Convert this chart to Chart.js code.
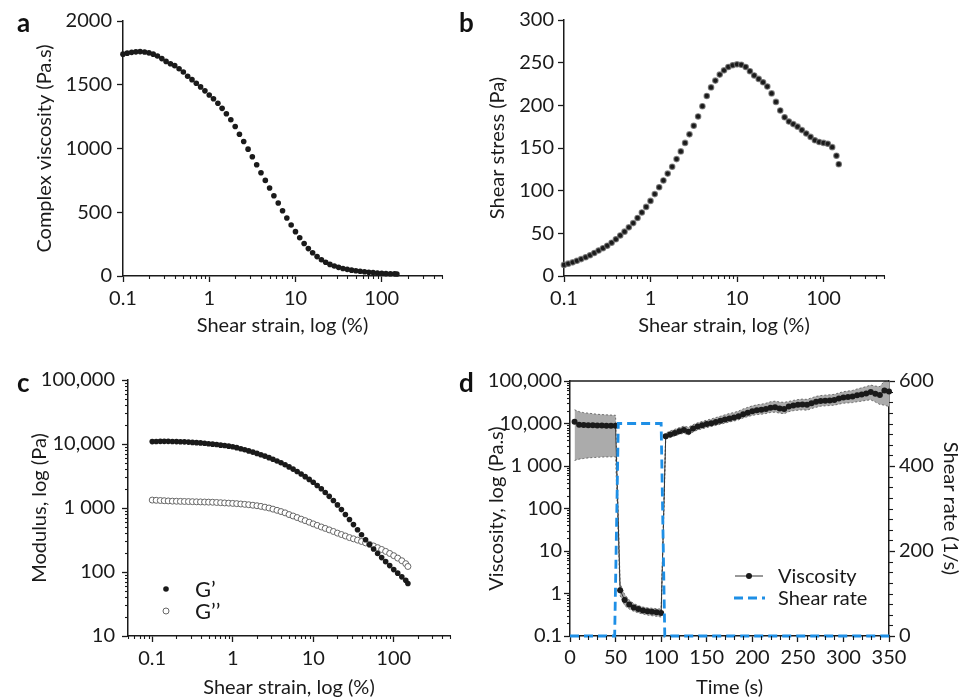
<!DOCTYPE html>
<html><head><meta charset="utf-8">
<script src="https://cdn.jsdelivr.net/npm/chart.js@4.4.1/dist/chart.umd.min.js"></script>
<style>
html,body{margin:0;padding:0;background:#fff;}
#wrap{position:relative;width:968px;height:700px;overflow:hidden;}
canvas{position:absolute;}
.pl{position:absolute;font-family:Lato,sans-serif;font-weight:bold;font-size:26px;line-height:26px;color:#111;}
</style></head><body>
<div id="wrap">
<canvas id="ca" width="484" height="350" style="left:0;top:0;width:484px;height:350px"></canvas>
<canvas id="cb" width="484" height="350" style="left:484px;top:0;width:484px;height:350px"></canvas>
<canvas id="cc" width="484" height="350" style="left:0;top:350px;width:484px;height:350px"></canvas>
<canvas id="cd" width="484" height="350" style="left:484px;top:350px;width:484px;height:350px"></canvas>
<div class="pl" style="left:17px;top:9px">a</div>
<div class="pl" style="left:459px;top:9px">b</div>
<div class="pl" style="left:17px;top:369px">c</div>
<div class="pl" style="left:459px;top:369px">d</div>
</div>
<script>
// ---------- data ----------
const strain = [0.1,0.112,0.126,0.141,0.158,0.178,0.2,0.224,0.251,0.282,
 0.316,0.355,0.398,0.447,0.501,0.562,0.631,0.708,0.794,0.891,
 1,1.12,1.26,1.41,1.58,1.78,2,2.24,2.51,2.82,
 3.16,3.55,3.98,4.47,5.01,5.62,6.31,7.08,7.94,8.91,
 10,11.2,12.6,14.1,15.8,17.8,20,22.4,25.1,28.2,
 31.6,35.5,39.8,44.7,50.1,56.2,63.1,70.8,79.4,89.1,
 100,112,126,141,150];
const complexViscosity = [1740,1748,1754,1758,1760,1757,1750,1740,1725,1705,
 1683,1665,1650,1625,1600,1567,1540,1512,1483,1452,
 1420,1390,1355,1315,1272,1225,1172,1112,1055,995,
 935,873,810,750,690,630,572,512,455,400,
 348,300,255,215,182,152,128,108,91,78,
 68,59,52,46,41,37,33,30,27,24,
 21,19,18,17,16];
const shearStress = [13,14.5,16,17.8,19.8,22,24.3,27,29.8,32.6,
 35.5,39,43,47.5,52,57,62,68,74.5,81,
 88,96,104,112,120,128,137,146,156,166,
 176,187,199,211,221,229,236,241,245,247,
 248,247.5,245,240,235,231,227,222,214,204,
 194,186,181,178,175,171,167,163,159,157,
 156,155,151,141,131];
const storageModulus = [10900,10950,11000,11000,11000,10950,10900,10850,10800,10700,
 10600,10500,10400,10250,10100,9950,9800,9600,9450,9250,
 9080,8770,8450,8130,7800,7460,7130,6790,6460,6120,
 5780,5430,5080,4730,4390,4050,3720,3400,3090,2800,
 2520,2250,1995,1750,1520,1310,1117,944,793,661,
 550,457,381,319,269,229,195,168,145,126,
 109,96,84,74,66];
const lossModulus = [1330,1320,1310,1300,1290,1280,1275,1270,1265,1260,
 1255,1250,1245,1240,1235,1230,1220,1210,1200,1190,
 1180,1170,1155,1140,1125,1105,1085,1060,1030,1000,
 960,920,880,840,790,750,710,670,635,600,
 565,535,505,480,455,430,405,385,365,345,
 330,315,300,285,270,255,240,225,210,195,
 180,165,150,135,122];

const timeD = [5,10,15,20,25,30,35,40,45,50,
 55,60,65,70,75,80,85,90,95,100,
 105,110,115,120,125,130,135,140,145,150,
 155,160,165,170,175,180,185,190,195,200,
 205,210,215,220,225,230,235,240,245,250,
 255,260,265,270,275,280,285,290,295,300,
 305,310,315,320,325,330,335,340,345,350];
const viscosityD = [11000,9300,9200,9100,9100,9000,9000,8900,8900,8800,
 1.2,0.70,0.55,0.47,0.43,0.40,0.38,0.37,0.36,0.35,
 5000,5500,6000,6600,7000,6400,7600,8500,9100,9700,
 10200,10900,11600,12400,13200,13800,14800,16500,18000,19500,
 20500,21000,22000,23500,24000,22500,22000,25000,26500,27500,
 28000,27500,30000,32500,34000,34500,35000,35500,38500,41000,
 42000,43000,46000,48000,51000,55000,50000,47000,60000,57000];
const viscUpperD = [21000,19000,18000,17500,17000,16500,16200,16000,15800,15600,
 1.7,0.95,0.70,0.58,0.52,0.48,0.46,0.45,0.44,0.43,
 5900,6700,7300,8000,8700,8200,9400,10400,11200,12000,
 12800,13800,14800,16000,17200,18200,19600,22000,24000,26000,
 27500,28500,30000,32500,33500,32000,31500,33000,35000,36500,
 37500,37000,40000,43500,45500,46500,47500,48500,52500,56000,
 58000,60000,65000,69000,74000,80000,76000,74000,100000,97000];
const viscLowerD = [1350,1450,1500,1550,1580,1600,1620,1630,1640,1650,
 0.9,0.52,0.43,0.38,0.35,0.33,0.31,0.30,0.29,0.28,
 4300,4700,5100,5600,5900,5400,6300,7000,7500,8000,
 8500,9000,9600,10200,10900,11400,12200,13500,14500,15500,
 16200,16500,17200,18200,18500,17500,17000,19000,20000,20500,
 21000,20500,22500,24000,25500,26000,26500,27000,28500,30000,
 30500,31000,32500,33500,35000,36000,32000,28000,27000,25000];
const shearTime = [0,49,53,100,104,350];
const shearRate = [0,0,500,500,0,0];

// ---------- ticks ----------
const strainTicks = [0.1,1,10,100];
const strainLabels = ['0.1','1','10','100'];
const strainMinor = [0.2,0.3,0.4,0.5,0.6,0.7,0.8,0.9,2,3,4,5,6,7,8,9,20,30,40,50,60,70,80,90,200,300,400,500];
const strainMinorC = [0.05,0.06,0.07,0.08,0.09].concat(strainMinor);
const modulusTicks = [10,100,1000,10000,100000];
const modulusLabels = ['10','100','1 000','10,000','100,000'];
const modulusMinor = [20,30,40,50,60,70,80,90,200,300,400,500,600,700,800,900,2000,3000,4000,5000,6000,7000,8000,9000,20000,30000,40000,50000,60000,70000,80000,90000];
const viscTicksD = [0.1,1,10,100,1000,10000,100000];
const viscLabelsD = ['0.1','1','10','100','1 000','10,000','100,000'];
const viscMinorD = [0.2,0.3,0.4,0.5,0.6,0.7,0.8,0.9,2,3,4,5,6,7,8,9].concat(modulusMinor);
const timeMinorD = [10,20,30,40,60,70,80,90,110,120,130,140,160,170,180,190,210,220,230,240,260,270,280,290,310,320,330,340];
const rateMinorD = [25,50,75,100,125,150,175,225,250,275,300,325,350,375,425,450,475,500,525,550,575];

// ---------- styling helpers ----------
const INK = '#1a1a1a';
const FAM = 'Lato, "Open Sans", sans-serif';
const TICKF = {family: FAM, size: 20};
const TITLEF = {family: FAM, size: 20};
const BLUE = '#1e8fe6';

const fixSize = (w, h) => s => { if (w != null) s.width = w; if (h != null) s.height = h; };
const setTicks = vals => s => { s.ticks = vals.map(v => ({value: v})); };

function axis(o) {
  return Object.assign({
    grid: {display: true, drawOnChartArea: false, drawTicks: true, tickLength: 6, color: INK, tickWidth: 1.3},
    border: {display: true, color: INK, width: 1.5},
  }, o);
}
function ticksOpt(extra) {
  return Object.assign({font: TICKF, color: INK, maxRotation: 0, autoSkip: false}, extra);
}

function makeDecor(cfg) {
  return {
    id: 'decor',
    afterDraw(chart) {
      const ctx = chart.ctx, ca = chart.chartArea;
      ctx.save();
      ctx.strokeStyle = INK; ctx.lineWidth = 1.1;
      (cfg.minor || []).forEach(m => {
        const s = chart.scales[m.scale];
        m.values.forEach(v => {
          const p = Math.round(s.getPixelForValue(v)) + 0.5;
          ctx.beginPath();
          if (s.position === 'bottom') { ctx.moveTo(p, s.top); ctx.lineTo(p, s.top + m.len); }
          else if (s.position === 'left') { ctx.moveTo(s.right, p); ctx.lineTo(s.right - m.len, p); }
          else { ctx.moveTo(s.left, p); ctx.lineTo(s.left + m.len, p); }
          ctx.stroke();
        });
      });
      if (cfg.topBorder) {
        ctx.lineWidth = 1.5;
        ctx.beginPath(); ctx.moveTo(ca.left, ca.top); ctx.lineTo(ca.right, ca.top); ctx.stroke();
      }
      (cfg.legend || []).forEach(it => {
        const x = ca.left + it.sx, y = ca.bottom + it.dy;
        ctx.setLineDash([]);
        if (it.kind === 'dot') {
          ctx.fillStyle = INK; ctx.beginPath(); ctx.arc(x, y, 2.8, 0, Math.PI * 2); ctx.fill();
        } else if (it.kind === 'circle') {
          ctx.fillStyle = '#fff'; ctx.strokeStyle = '#666'; ctx.lineWidth = 1;
          ctx.beginPath(); ctx.arc(x, y, 3, 0, Math.PI * 2); ctx.fill(); ctx.stroke();
        } else if (it.kind === 'lineDot') {
          ctx.strokeStyle = '#333'; ctx.lineWidth = 1;
          ctx.beginPath(); ctx.moveTo(x - 14, y); ctx.lineTo(x + 14, y); ctx.stroke();
          ctx.fillStyle = INK; ctx.beginPath(); ctx.arc(x, y, 3, 0, Math.PI * 2); ctx.fill();
        } else if (it.kind === 'dash') {
          ctx.strokeStyle = BLUE; ctx.lineWidth = 2.8; ctx.setLineDash([9, 5]);
          ctx.beginPath(); ctx.moveTo(x - 15, y); ctx.lineTo(x + 16, y); ctx.stroke();
          ctx.setLineDash([]);
        }
        ctx.fillStyle = INK; ctx.font = (it.size || 20) + 'px ' + FAM; ctx.textBaseline = 'middle'; ctx.textAlign = 'left';
        ctx.fillText(it.text, ca.left + it.tx, y + 1);
      });
      ctx.restore();
    }
  };
}

const base = {responsive: false, animation: false, events: []};
const noPlug = {legend: {display: false}, tooltip: {enabled: false}};

// ---------- panel a ----------
new Chart(document.getElementById('ca'), {
  type: 'scatter',
  data: {datasets: [{data: strain.map((x, i) => ({x, y: complexViscosity[i]})),
    pointRadius: 2.8, pointBackgroundColor: INK, pointBorderWidth: 0, showLine: false, clip: false}]},
  options: Object.assign({}, base, {
    layout: {padding: {left: 0, top: 21, right: 42, bottom: 8}},
    plugins: noPlug,
    scales: {
      x: axis({type: 'logarithmic', min: 0.1, max: 500, bounds: 'data',
        afterBuildTicks: setTicks(strainTicks), afterFit: fixSize(null, 66),
        ticks: ticksOpt({padding: 5, callback: (v, i) => strainLabels[i]}),
        title: {display: true, text: 'Shear strain, log (%)', font: TITLEF, color: INK, padding: {top: 0, bottom: 4}}}),
      y: axis({type: 'linear', min: 0, max: 2000, afterFit: fixSize(123, null),
        ticks: ticksOpt({stepSize: 500, padding: 5, callback: v => String(v)}),
        title: {display: true, text: 'Complex viscosity (Pa.s)', font: TITLEF, color: INK, padding: {top: 33, bottom: 0}}})
    }
  }),
  plugins: [makeDecor({minor: [{scale: 'x', values: strainMinor, len: 3}]})]
});

// ---------- panel b ----------
new Chart(document.getElementById('cb'), {
  type: 'scatter',
  data: {datasets: [{data: strain.map((x, i) => ({x, y: shearStress[i]})),
    pointRadius: 2.7, pointBackgroundColor: INK, pointBorderColor: 'rgba(110,110,110,0.75)', pointBorderWidth: 1.2, showLine: false, clip: false}]},
  options: Object.assign({}, base, {
    layout: {padding: {left: 0, top: 20, right: 84, bottom: 8}},
    plugins: noPlug,
    scales: {
      x: axis({type: 'logarithmic', min: 0.1, max: 500, bounds: 'data',
        afterBuildTicks: setTicks(strainTicks), afterFit: fixSize(null, 66),
        ticks: ticksOpt({padding: 5, callback: (v, i) => strainLabels[i]}),
        title: {display: true, text: 'Shear strain, log (%)', font: TITLEF, color: INK, padding: {top: 0, bottom: 4}}}),
      y: axis({type: 'linear', min: 0, max: 300, afterFit: fixSize(80, null),
        ticks: ticksOpt({stepSize: 50, padding: 4, callback: v => String(v)}),
        title: {display: true, text: 'Shear stress (Pa)', font: TITLEF, color: INK, padding: {top: 2, bottom: 0}}})
    }
  }),
  plugins: [makeDecor({minor: [{scale: 'x', values: strainMinor, len: 3}]})]
});

// ---------- panel c ----------
new Chart(document.getElementById('cc'), {
  type: 'scatter',
  data: {datasets: [
    {data: strain.map((x, i) => ({x, y: storageModulus[i]})),
      pointRadius: 2.8, pointBackgroundColor: INK, pointBorderWidth: 0, showLine: false, clip: false},
    {data: strain.map((x, i) => ({x, y: lossModulus[i]})),
      pointRadius: 3, pointBackgroundColor: '#fff', pointBorderColor: '#666', pointBorderWidth: 1, showLine: false, clip: false}
  ]},
  options: Object.assign({}, base, {
    layout: {padding: {left: 0, top: 30, right: 34, bottom: 0}},
    plugins: noPlug,
    scales: {
      x: axis({type: 'logarithmic', min: 0.05, max: 500, bounds: 'data',
        afterBuildTicks: setTicks(strainTicks), afterFit: fixSize(null, 64),
        ticks: ticksOpt({padding: 5, callback: (v, i) => strainLabels[i]}),
        title: {display: true, text: 'Shear strain, log (%)', font: TITLEF, color: INK, padding: {top: 0, bottom: 0}}}),
      y: axis({type: 'logarithmic', min: 10, max: 100000, bounds: 'data',
        afterBuildTicks: setTicks(modulusTicks), afterFit: fixSize(128, null),
        ticks: ticksOpt({padding: 7, callback: (v, i) => modulusLabels[i]}),
        title: {display: true, text: 'Modulus, log (Pa)', font: TITLEF, color: INK, padding: {top: 28, bottom: 0}}})
    }
  }),
  plugins: [makeDecor({
    minor: [{scale: 'x', values: strainMinorC, len: 3}, {scale: 'y', values: modulusMinor, len: 3}],
    legend: [{kind: 'dot', sx: 38, tx: 67, dy: -47, text: 'G\u2019', size: 22},
             {kind: 'circle', sx: 38, tx: 67, dy: -25, text: 'G\u2019\u2019', size: 22}]
  })]
});

// ---------- panel d ----------
new Chart(document.getElementById('cd'), {
  type: 'line',
  data: {datasets: [
    {label: 'Shear rate', yAxisID: 'y2', data: shearTime.map((x, i) => ({x, y: shearRate[i]})),
      borderColor: BLUE, borderWidth: 2.8, borderDash: [9, 5], pointRadius: 0, fill: false, tension: 0, clip: false},
    {label: 'Viscosity', yAxisID: 'y', data: timeD.map((x, i) => ({x, y: viscosityD[i]})),
      borderColor: '#333', borderWidth: 1, pointRadius: 3, pointBackgroundColor: INK, pointBorderWidth: 0, fill: false, tension: 0, clip: false},
    {label: 'upper', yAxisID: 'y', data: timeD.map((x, i) => ({x, y: viscUpperD[i]})),
      borderColor: '#555', borderWidth: 0.8, borderDash: [2, 2], pointRadius: 0, fill: false, tension: 0},
    {label: 'lower', yAxisID: 'y', data: timeD.map((x, i) => ({x, y: viscLowerD[i]})),
      borderColor: '#555', borderWidth: 0.8, borderDash: [2, 2], pointRadius: 0, fill: '-1', backgroundColor: '#ababab', tension: 0}
  ]},
  options: Object.assign({}, base, {
    layout: {padding: {left: 0, top: 31, right: 0, bottom: 0}},
    plugins: Object.assign({}, noPlug, {filler: {propagate: false}}),
    scales: {
      x: axis({type: 'linear', min: 0, max: 350, afterFit: fixSize(null, 64),
        ticks: ticksOpt({stepSize: 50, padding: 4, callback: v => String(v)}),
        title: {display: true, text: 'Time (s)', font: TITLEF, color: INK, padding: {top: 0, bottom: 0}}}),
      y: axis({type: 'logarithmic', position: 'left', min: 0.1, max: 100000, bounds: 'data',
        afterBuildTicks: setTicks(viscTicksD), afterFit: fixSize(86, null),
        ticks: ticksOpt({padding: 2, callback: (v, i) => viscLabelsD[i]}),
        title: {display: true, text: 'Viscosity, log (Pa.s)', font: TITLEF, color: INK, padding: {top: 1, bottom: 0}}}),
      y2: axis({type: 'linear', position: 'right', min: 0, max: 600, afterFit: fixSize(79, null),
        ticks: ticksOpt({stepSize: 200, padding: 4, callback: v => String(v)}),
        title: {display: true, text: 'Shear rate (1/s)', font: TITLEF, color: INK, padding: {top: 6, bottom: 0}}})
    }
  }),
  plugins: [makeDecor({
    minor: [{scale: 'x', values: timeMinorD, len: 4}, {scale: 'y', values: viscMinorD, len: 3}, {scale: 'y2', values: rateMinorD, len: 4}],
    topBorder: true,
    legend: [{kind: 'lineDot', sx: 179, tx: 208, dy: -60, text: 'Viscosity'},
             {kind: 'dash', sx: 179, tx: 208, dy: -38, text: 'Shear rate'}]
  })]
});
</script>
</body></html>
